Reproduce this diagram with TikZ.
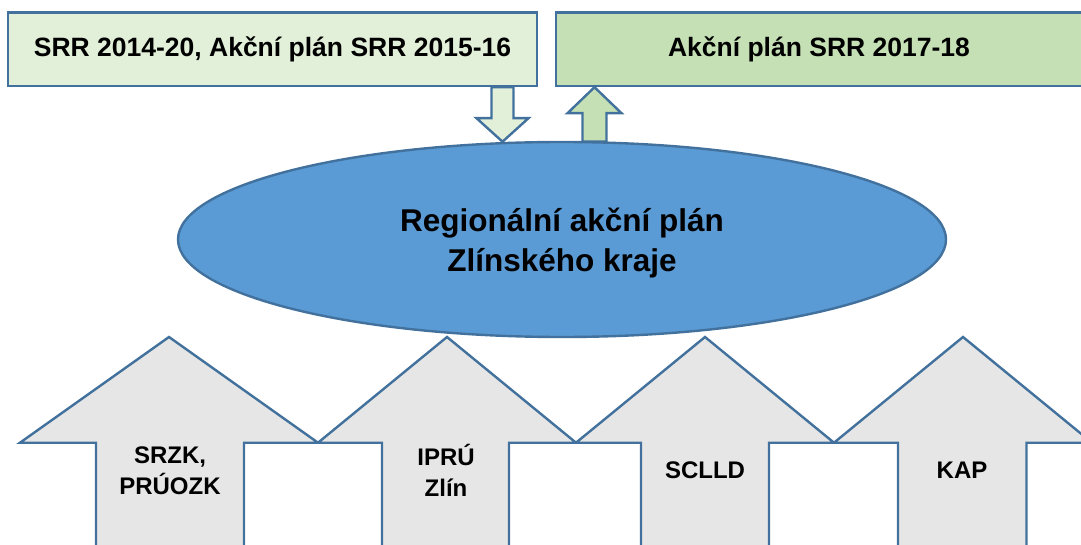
\documentclass[tikz,border=0pt]{standalone}
\usepackage{fontspec}
\setmainfont{Liberation Sans}
\usetikzlibrary{shapes.geometric,calc}
\definecolor{bord}{HTML}{41719C}
\definecolor{lgA}{HTML}{E2F0D9}
\definecolor{lgB}{HTML}{C5E0B4}
\definecolor{elb}{HTML}{5B9BD5}
\definecolor{grayA}{HTML}{E7E6E6}
\begin{document}
\begin{tikzpicture}[x=1pt,y=-1pt,
  outl/.style={draw=bord,line width=2.4pt,line join=miter},
  topbox/.style={outl,rectangle,inner sep=0pt,
    font=\fontsize{26.5}{30}\selectfont\bfseries},
  blk/.style={outl,fill=grayA},
  lab/.style={align=center,inner sep=0pt,
    font=\fontsize{24}{31}\selectfont\bfseries},
  bigtxt/.style={align=center,inner sep=0pt,
    font=\fontsize{31.5}{40}\selectfont\bfseries}
]
\useasboundingbox (0,0) rectangle (1081,545);
\clip (0,0) rectangle (1081,545);

% bottom block arrows
\draw[blk] (96,560) -- (96,442.7) -- (20,442.7) -- (169,337) -- (318,442.7) -- (244,442.7) -- (244,560) -- cycle;
\draw[blk] (382,560) -- (382,442.7) -- (318,442.7) -- (447,337) -- (576,442.7) -- (509,442.7) -- (509,560) -- cycle;
\draw[blk] (641,560) -- (641,442.7) -- (576,442.7) -- (705,337) -- (834,442.7) -- (769,442.7) -- (769,560) -- cycle;
\draw[blk] (898,560) -- (898,442.7) -- (834,442.7) -- (963,337) -- (1092,442.7) -- (1026.5,442.7) -- (1026.5,560) -- cycle;

\node[lab] (srzk) at (170,471) {SRZK,\\PRÚOZK};
\node[lab] (ipru) at (446,470) {IPRÚ\\Zlín};
\node[lab] (sclld) at (705,470) {SCLLD};
\node[lab] (kap) at (962,470) {KAP};

% central ellipse
\node[ellipse,outl,fill=elb,minimum width=768pt,minimum height=195pt,inner sep=0pt] (rap) at (562,239.5) {};
\node[bigtxt] (raptxt) at (562,243) {Regionální akční plán\\Zlínského kraje};

% top boxes
\node[topbox,fill=lgA,minimum width=529pt,minimum height=73.3pt] (srr) at (272.5,49.35) {SRR 2014-20, Akční plán SRR 2015-16};
\node[topbox,fill=lgB,minimum width=530pt,minimum height=73.3pt] (ap) at (821,49.35) {\hspace{-4pt}Akční plán SRR 2017-18};

% block arrows between boxes and ellipse
\coordinate (dA) at (srr.south -| 502.5,0);
\coordinate (dB) at (502.5,141.7);
\coordinate (uA) at (594.5,141.7);
\coordinate (uB) at (ap.south -| 594.5,0);
\draw[outl,fill=lgA] let \p1=(dA), \p2=(dB) in
  (\x1-11pt,\y1) -- (\x1-11pt,\y2+23.5pt) -- (\x1-26pt,\y2+23.5pt) -- (\x2,\y2)
  -- (\x1+26pt,\y2+23.5pt) -- (\x1+11pt,\y2+23.5pt) -- (\x1+11pt,\y1) -- cycle;
\draw[outl,fill=lgB] let \p1=(uA), \p2=(uB) in
  (\x1-12pt,\y1) -- (\x1-12pt,\y2-26pt) -- (\x1-27pt,\y2-26pt) -- (\x2,\y2)
  -- (\x1+27pt,\y2-26pt) -- (\x1+12pt,\y2-26pt) -- (\x1+12pt,\y1) -- cycle;
\end{tikzpicture}
\end{document}
